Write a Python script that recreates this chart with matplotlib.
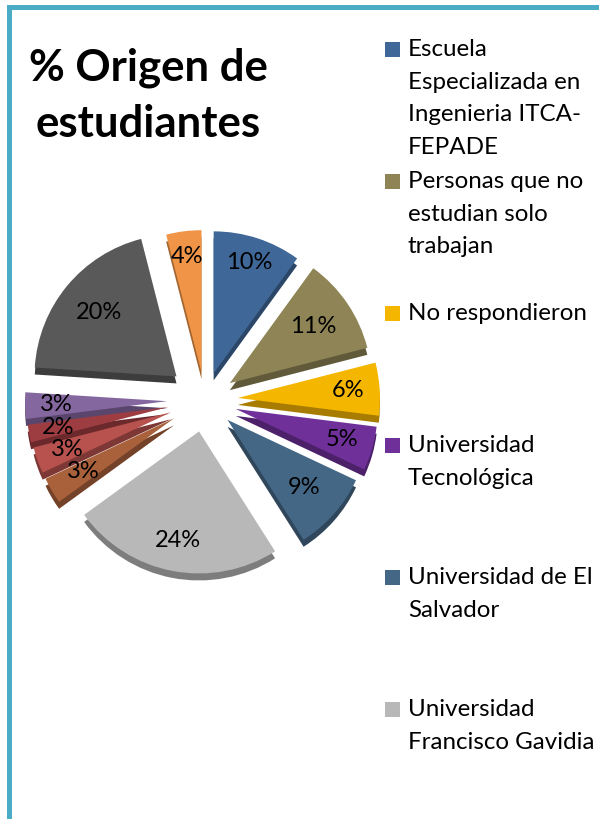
import numpy as np
import matplotlib
matplotlib.use('Agg')
import matplotlib.pyplot as plt
from matplotlib.colors import to_rgb
from matplotlib.patches import Rectangle

plt.rcParams['font.family'] = ['Lato', 'DejaVu Sans']

W, H = 599, 819

# porcentajes, en orden desde arriba y en sentido horario
values = [10, 11, 6, 5, 9, 24, 3, 3, 2, 3, 20, 4]
colors = ['#3F6797', '#8E8455', '#F5B600', '#70309A', '#456786', '#B8B8B8',
          '#A9613B', '#B8524E', '#9E3D41', '#8567A0', '#595959', '#F09547']
title_lines = ['% Origen de', 'estudiantes']
legend_lines = [
    ['Escuela', 'Especializada en', 'Ingenieria ITCA-', 'FEPADE'],
    ['Personas que no', 'estudian solo', 'trabajan'],
    ['No respondieron'],
    ['Universidad', 'Tecnológica'],
    ['Universidad de El', 'Salvador'],
    ['Universidad', 'Francisco Gavidia'],
]

# estilo
explode_px = [28, 30, 33, 32, 30, 32, 36, 36, 37, 38, 37, 28]
label_frac = [.82, .71, .78, .78, .72, .78, .74, .78, .79, .78, .71, .82]
legend_y = [49, 181, 313, 445, 577, 709]
radius = 142
cx, cy = 205, H - 400
depth = 7


def darker(c, f=0.68):
    return tuple(v * f for v in to_rgb(c))


fig = plt.figure(figsize=(W / 100, H / 100), dpi=100)
ax = fig.add_axes([0, 0, 1, 1])

# cara lateral: la misma torta, mas oscura y corrida hacia abajo
ax.pie(values, colors=[darker(c) for c in colors], explode=explode_px,
       startangle=90, counterclock=False, radius=radius, center=(cx, cy - depth),
       wedgeprops={'linewidth': 0})
wedges, _, autotexts = ax.pie(values, colors=colors, explode=explode_px,
                              startangle=90, counterclock=False, radius=radius,
                              center=(cx, cy), autopct='%.0f%%',
                              wedgeprops={'linewidth': 0},
                              textprops={'fontsize': 17, 'color': 'black'})

for w, t, f in zip(wedges, autotexts, label_frac):
    a = np.deg2rad((w.theta1 + w.theta2) / 2)
    t.set_position((w.center[0] + f * w.r * np.cos(a),
                    w.center[1] + f * w.r * np.sin(a)))

ax.set_xlim(0, W)
ax.set_ylim(0, H)
ax.set_aspect('equal')
ax.axis('off')

# marco
ax.add_patch(Rectangle((7, 0), 5, H - 5, color='#4BACC6', lw=0))
ax.add_patch(Rectangle((7, H - 10), W - 7, 5, color='#4BACC6', lw=0))

# titulo
for line, y in zip(title_lines, [68, 124]):
    ax.text(148, H - y, line, fontsize=31.5, fontweight='bold', ha='center', va='center')

# leyenda
for lines, y0, c in zip(legend_lines, legend_y, colors):
    ax.add_patch(Rectangle((385, H - y0 - 7.5), 15, 15, color=c, lw=0))
    for i, line in enumerate(lines):
        ax.text(408, H - y0 - 1 - i * 32.4, line, fontsize=17.4, ha='left', va='center')

fig.savefig('out.png', dpi=100)
